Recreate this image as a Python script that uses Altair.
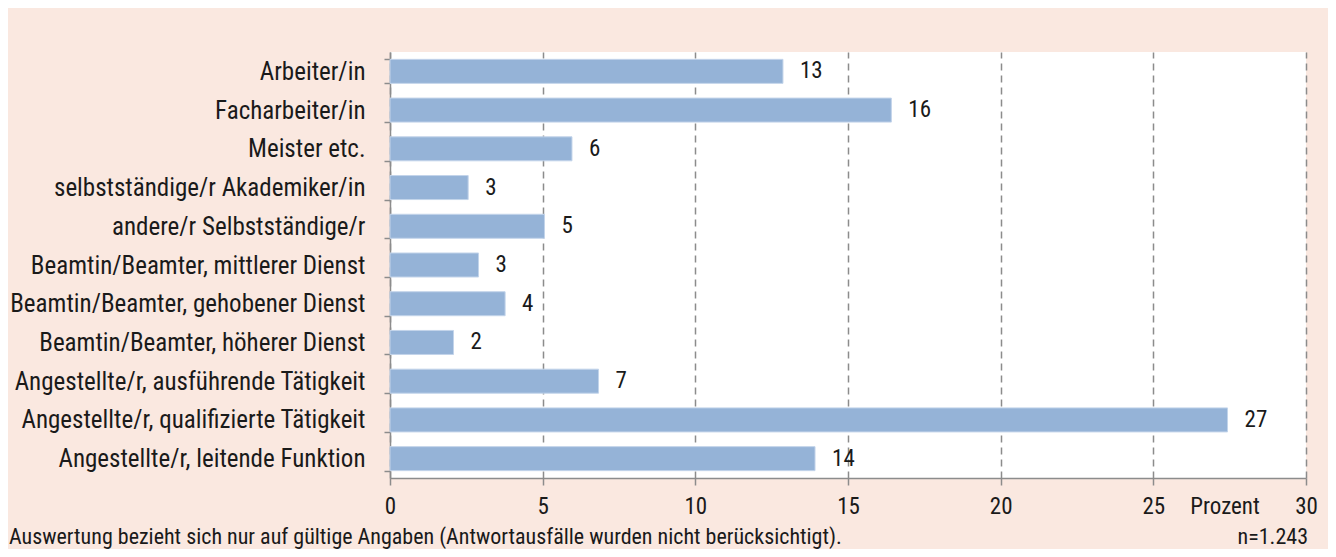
import altair as alt
import pandas as pd

categories = [
    "Arbeiter/in",
    "Facharbeiter/in",
    "Meister etc.",
    "selbstständige/r Akademiker/in",
    "andere/r Selbstständige/r",
    "Beamtin/Beamter, mittlerer Dienst",
    "Beamtin/Beamter, gehobener Dienst",
    "Beamtin/Beamter, höherer Dienst",
    "Angestellte/r, ausführende Tätigkeit",
    "Angestellte/r, qualifizierte Tätigkeit",
    "Angestellte/r, leitende Funktion",
]
values = [12.87, 16.42, 5.96, 2.56, 5.06, 2.90, 3.77, 2.08, 6.83, 27.43, 13.92]
labels = ["13", "16", "6", "3", "5", "3", "4", "2", "7", "27", "14"]
x_ticks = [0, 5, 10, 15, 20, 25, 30]
unit_label = "Prozent"
footnote = "Auswertung bezieht sich nur auf gültige Angaben (Antwortausfälle wurden nicht berücksichtigt)."
sample_note = "n=1.243"

FONT = "Liberation Sans Narrow, Arial Narrow, Roboto Condensed, DejaVu Sans Condensed, sans-serif"
FS_CAT = 25
FS_NUM = 23
FS_FOOT = 22
TXT = "#1a1a1a"
GRID = "#8c8c8c"
BG = "#FAE8E0"
BAR = "#95B3D7"

df = pd.DataFrame({"cat": categories, "val": values, "lab": labels})

W, H = 916, 426

y_enc = alt.Y(
    "cat:N",
    sort=categories,
    title=None,
    scale=alt.Scale(paddingInner=0.38, paddingOuter=0.19),
    axis=alt.Axis(
        labelFont=FONT, labelFontSize=FS_CAT, labelColor=TXT, labelPadding=19,
        tickSize=6, tickColor=GRID, tickWidth=1.5, tickBand="extent",
        domainColor=GRID, domainWidth=1.5, grid=False, labelLimit=500,
    ),
)
x_enc = alt.X(
    "val:Q",
    title=None,
    scale=alt.Scale(domain=[0, 30], nice=False),
    axis=alt.Axis(
        values=x_ticks, labelFont=FONT, labelFontSize=FS_NUM, labelColor=TXT,
        labelPadding=10, labelFlush=False, tickSize=7, tickColor=GRID, tickWidth=1.5,
        domainColor=GRID, domainWidth=1.5,
        grid=True, gridColor=GRID, gridDash=[7, 5], gridWidth=1.5,
    ),
)

bars = alt.Chart(df).mark_bar(color=BAR, stroke="#C3D4EA", strokeWidth=1).encode(x=x_enc, y=y_enc)

text = alt.Chart(df).mark_text(
    align="left", baseline="middle", dx=17, font=FONT, fontSize=FS_NUM, color=TXT
).encode(x="val:Q", y=alt.Y("cat:N", sort=categories), text="lab:N")

unit = alt.Chart(pd.DataFrame({"t": [unit_label]})).mark_text(
    align="center", baseline="middle", font=FONT, fontSize=FS_NUM, color=TXT
).encode(x=alt.value(835), y=alt.value(H + 29), text="t:N")

foot = alt.Chart(pd.DataFrame({"t": [footnote]})).mark_text(
    align="left", baseline="middle", font=FONT, fontSize=FS_FOOT, color=TXT
).encode(x=alt.value(-381), y=alt.value(H + 59), text="t:N")

nnote = alt.Chart(pd.DataFrame({"t": [sample_note]})).mark_text(
    align="right", baseline="middle", font=FONT, fontSize=FS_FOOT, color=TXT
).encode(x=alt.value(W + 2), y=alt.value(H + 59), text="t:N")

chart = (
    alt.layer(bars, text, unit, foot, nnote)
    .properties(
        width=W, height=H,
        autosize=alt.AutoSizeParams(type="none"),
        padding={"left": 382, "top": 44, "right": 22, "bottom": 71},
        background=BG,
    )
    .configure_view(fill="white", stroke=None)
)

chart.save("out.html", embed_options={"renderer": "svg", "actions": False})
